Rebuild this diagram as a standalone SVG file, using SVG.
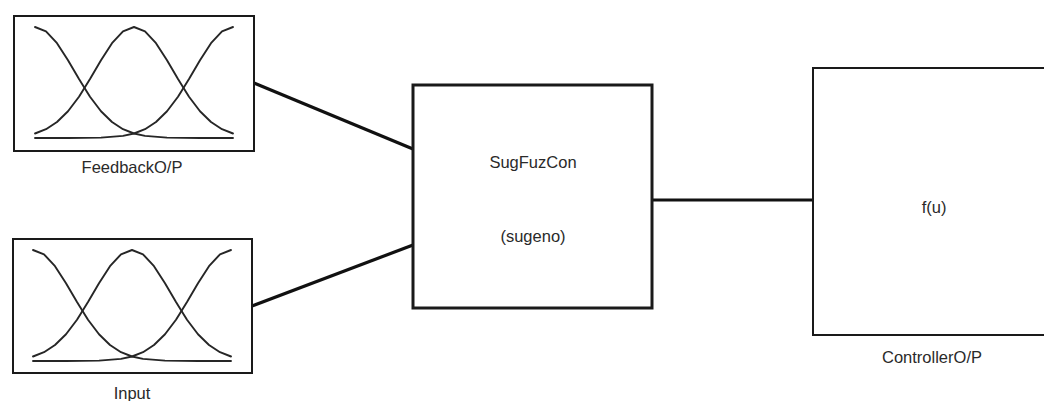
<svg xmlns="http://www.w3.org/2000/svg" xmlns:xlink="http://www.w3.org/1999/xlink" width="1044" height="401" viewBox="0 0 1044 401">
<style>
.box{fill:#fff;stroke:#1a1a1a;stroke-width:2}
.thick{stroke-width:3}
.mf{fill:none;stroke:#262626;stroke-width:1.9;stroke-linejoin:round;stroke-linecap:round}
.lbl{font-family:"Liberation Sans",Arial,sans-serif;font-size:16.5px;fill:#2a2a2a;text-anchor:middle}
.conn{stroke:#111;stroke-width:3.2;fill:none;stroke-linecap:butt}
</style>
<defs>
<g id="mfs">
<polyline class="mf" points="35,27 46,31.3 57,43.2 68,60.2 79,79 90,96.7 101,111.3 112,122 123,129.2 134,133.5 145,135.9 167,137.6 200,138 233,138"/>
<polyline class="mf" points="35,133.5 46,129.2 57,122 68,111.3 79,96.7 90,79 101,60.2 112,43.2 123,31.3 134,27 145,31.3 156,43.2 167,60.2 178,79 189,96.7 200,111.3 211,122 222,129.2 233,133.5"/>
<polyline class="mf" points="35,138 68,138 101,137.6 123,135.9 134,133.5 145,129.2 156,122 167,111.3 178,96.7 189,79 200,60.2 211,43.2 222,31.3 233,27"/>
</g>
</defs>
<rect width="1044" height="401" fill="#fff"/>
<g id="connectors">
<line class="conn" x1="254" y1="83" x2="413" y2="149"/>
<line class="conn" x1="252" y1="306" x2="413" y2="245"/>
<line class="conn" x1="652" y1="200" x2="813" y2="200"/>
</g>
<g id="feedback">
<rect class="box" x="14" y="16" width="240" height="135"/>
<use xlink:href="#mfs"/>
<text class="lbl" x="132" y="173">FeedbackO/P</text>
</g>
<g id="input">
<rect class="box" x="13" y="239" width="239" height="134"/>
<use xlink:href="#mfs" transform="translate(-2,223)"/>
<text class="lbl" x="132" y="399">Input</text>
</g>
<g id="sugfuzcon">
<rect class="box thick" x="413" y="85" width="239" height="223"/>
<text class="lbl" x="533" y="168">SugFuzCon</text>
<text class="lbl" x="533" y="242">(sugeno)</text>
</g>
<g id="controller">
<rect class="box" x="813" y="68" width="240" height="267"/>
<text class="lbl" x="934" y="213">f(u)</text>
<text class="lbl" x="932" y="363">ControllerO/P</text>
</g>
</svg>
